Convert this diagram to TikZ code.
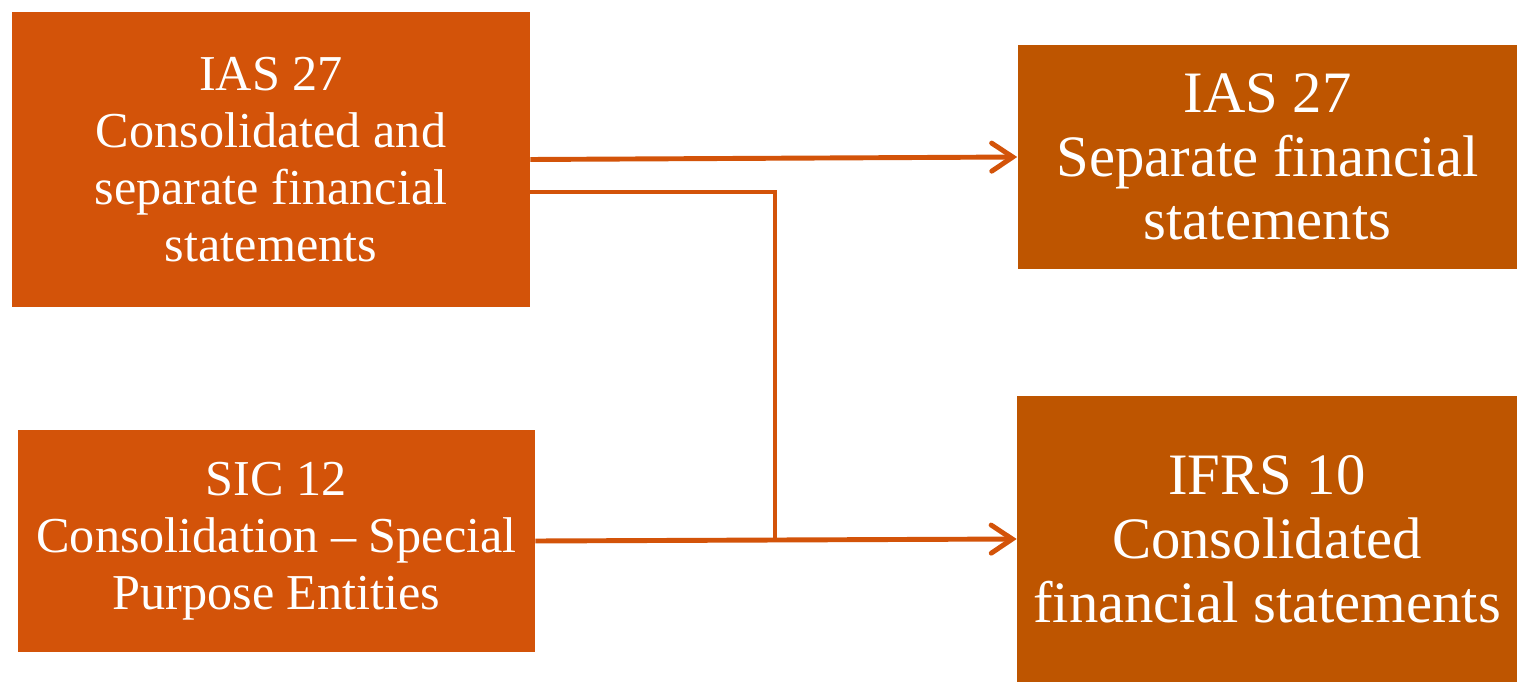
\documentclass[tikz,border=0pt]{standalone}
\usepackage{fontspec}
\setmainfont{Liberation Serif}
\usetikzlibrary{arrows.meta}
\definecolor{ifrsorange}{RGB}{211,83,9}
\definecolor{ifrsbrown}{RGB}{190,85,0}
\tikzset{
  oldstd/.style={fill=ifrsorange,text=white,inner sep=0pt,align=center,
    font=\fontsize{28.6}{32.3}\selectfont},
  newstd/.style={fill=ifrsbrown,text=white,inner sep=0pt,align=center,
    font=\fontsize{33.4}{36.3}\selectfont},
  link/.style={draw=ifrsorange,line width=2.8pt}
}
\begin{document}
\begin{tikzpicture}[>={Straight Barb[length=12pt,width=16pt,line cap=round]},x=0.02cm,y=-0.02cm]
		\useasboundingbox (0,0) rectangle (1517,682);
		% old standards on the left
		\node[oldstd,minimum width=10.36cm,minimum height=5.9cm] (ias) at (271,159.5)
			{IAS 27\\Consolidated and\\separate financial\\statements};
		\node[oldstd,minimum width=10.34cm,minimum height=4.44cm] (sic) at (276.5,541)
			{SIC 12\\Consolidation -- Special\\Purpose Entities};
		% new standards on the right
		\node[newstd,minimum width=10cm,minimum height=4.48cm] (sep) at (1267.5,157)
			{IAS 27\\ Separate financial\\statements};
		\node[newstd,minimum width=10cm,minimum height=5.72cm] (ifrs) at (1267,539)
			{IFRS 10\\Consolidated\\financial statements};
		\coordinate (ias2) at ([yshift=-0.65cm]ias.east);
		\coordinate (j) at (775,540);
		\draw[link,->] (ias.east) -- (sep.west);
		\draw[link] (ias2) -| (j);
		\draw[link,->] (sic.east) -- (ifrs.west);
\end{tikzpicture}
\end{document}
